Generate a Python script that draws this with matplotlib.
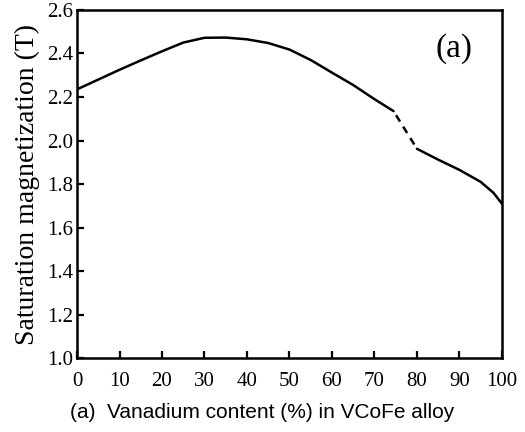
import matplotlib
matplotlib.use("Agg")
import matplotlib.pyplot as plt

# Saturation magnetization of VCoFe vs vanadium content
v_low = [0, 5, 10, 15, 20, 25, 30, 35, 40, 45, 50, 55, 60, 65, 70, 74.5]
ms_low = [2.235, 2.28, 2.325, 2.368, 2.41, 2.45, 2.472, 2.473, 2.465, 2.448,
          2.418, 2.37, 2.312, 2.255, 2.19, 2.135]

v_gap = [74.5, 80]
ms_gap = [2.135, 1.962]

v_high = [80, 85, 90, 95, 98, 100]
ms_high = [1.962, 1.912, 1.865, 1.81, 1.76, 1.71]

x_ticks = list(range(0, 101, 10))
y_ticks = [1.0, 1.2, 1.4, 1.6, 1.8, 2.0, 2.2, 2.4, 2.6]

serif = ['Liberation Serif', 'DejaVu Serif']

fig = plt.figure(figsize=(5.25, 4.32), dpi=100)
ax = fig.add_axes([0.1467, 0.171, 0.8093, 0.806])

ax.plot(v_low, ms_low, color='black', lw=1.8, solid_capstyle='round')
ax.plot(v_gap, ms_gap, color='black', lw=1.8, linestyle=(3.5, (3, 2.4)))
ax.plot(v_high, ms_high, color='black', lw=1.8, solid_capstyle='round')

ax.set_xlim(0, 100)
ax.set_ylim(1.0, 2.6)
ax.set_xticks(x_ticks)
ax.set_yticks(y_ticks)
ax.set_xticklabels([str(t) for t in x_ticks], family=serif, fontsize=15)
ax.set_yticklabels([f"{t:.1f}" for t in y_ticks], family=serif, fontsize=15)
ax.tick_params(direction='in', length=5, width=1.6, top=False, right=False)
ax.tick_params(axis='x', pad=10)
ax.tick_params(axis='y', pad=3)

for s in ax.spines.values():
    s.set_linewidth(1.8)

ax.set_ylabel('Saturation magnetization (T)', family=serif, fontsize=20, labelpad=5)
ax.text(0.887, 0.888, '(a)', transform=ax.transAxes, family=serif, fontsize=24,
        ha='center', va='center')

fig.text(0.499, 0.046, '(a)  Vanadium content (%) in VCoFe alloy',
         family=['Liberation Sans', 'DejaVu Sans'], fontsize=15, ha='center', va='center')

fig.savefig('out.png', dpi=100)
